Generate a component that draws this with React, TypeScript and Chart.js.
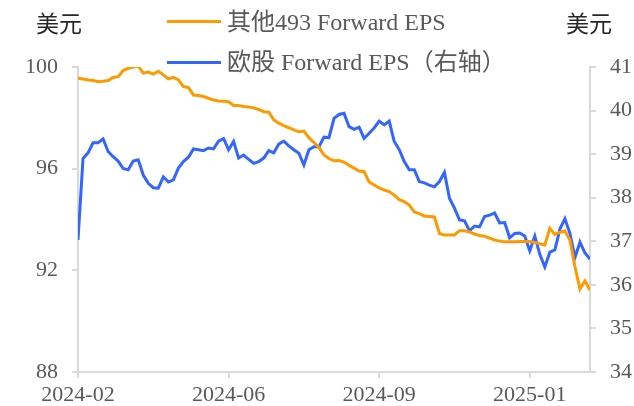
import React, { useEffect, useRef } from 'react';
import { Chart, registerables } from 'chart.js';

Chart.register(...registerables);

// x positions are sample indices; tick labels shown at these indices
const xTickIndex = [0, 30, 60, 90];
const xTickLabels = ['2024-02', '2024-06', '2024-09', '2025-01'];

const seriesNames = ['其他493 Forward EPS', '欧股 Forward EPS（右轴）'];
const unitLabel = '美元';

const other493Eps = [
  99.56, 99.53, 99.49, 99.47, 99.42, 99.44, 99.47, 99.59, 99.62, 99.86,
  99.95, 100.0, 100.04, 99.76, 99.8, 99.72, 99.83, 99.69, 99.53, 99.59,
  99.49, 99.23, 99.19, 98.9, 98.88, 98.84, 98.77, 98.7, 98.66, 98.65,
  98.63, 98.49, 98.49, 98.45, 98.43, 98.39, 98.33, 98.24, 98.22, 97.92,
  97.79, 97.69, 97.61, 97.53, 97.45, 97.48, 97.22, 97.03, 96.83, 96.54,
  96.4, 96.31, 96.32, 96.26, 96.13, 96.02, 95.91, 95.88, 95.48, 95.36,
  95.24, 95.16, 95.1, 94.96, 94.78, 94.7, 94.57, 94.3, 94.23, 94.14,
  94.12, 94.1, 93.45, 93.39, 93.39, 93.39, 93.56, 93.56, 93.51, 93.43,
  93.37, 93.34, 93.27, 93.19, 93.15, 93.12, 93.12, 93.12, 93.13, 93.13,
  93.13, 93.1, 93.04, 93.0, 93.65, 93.41, 93.5, 93.55, 93.19, 92.14,
  91.27, 91.58, 91.23,
];

const europeEps = [
  37.03, 38.9, 39.03, 39.26, 39.26, 39.35, 39.06, 38.94, 38.84, 38.67,
  38.64, 38.84, 38.87, 38.52, 38.33, 38.23, 38.22, 38.48, 38.36, 38.41,
  38.68, 38.83, 38.93, 39.12, 39.1, 39.08, 39.14, 39.12, 39.3, 39.36,
  39.1, 39.29, 38.91, 38.98, 38.88, 38.79, 38.83, 38.91, 39.08, 39.03,
  39.23, 39.3, 39.19, 39.1, 39.02, 38.75, 39.1, 39.17, 39.17, 39.39,
  39.38, 39.82, 39.91, 39.94, 39.63, 39.57, 39.62, 39.36, 39.48, 39.6,
  39.76, 39.67, 39.76, 39.29, 39.1, 38.83, 38.64, 38.64, 38.37, 38.34,
  38.29, 38.25, 38.37, 38.58, 37.99, 37.76, 37.49, 37.47, 37.24, 37.35,
  37.33, 37.57, 37.6, 37.65, 37.42, 37.43, 37.08, 37.18, 37.19, 37.12,
  36.78, 37.12, 36.7, 36.41, 36.75, 36.8, 37.28, 37.52, 37.18, 36.63,
  36.98, 36.73, 36.59,
];

const leftAxis = { min: 88, max: 100, step: 4 };
const rightAxis = { min: 34, max: 41, step: 1 };

const ORANGE = '#FF9900';
const BLUE = '#3366FF';
const AXIS = '#D9D9D9';
const TEXT = '#595959';
const FONT = "'Liberation Serif', 'Times New Roman', 'Noto Sans CJK SC', serif";

export default function App() {
  const ref = useRef<HTMLCanvasElement | null>(null);

  useEffect(() => {
    if (!ref.current) return;
    const toPts = (arr: number[]) => arr.map((y, i) => ({ x: i, y }));
    const chart = new Chart(ref.current, {
      type: 'line',
      data: {
        datasets: [
          {
            label: seriesNames[0],
            data: toPts(other493Eps),
            borderColor: ORANGE,
            backgroundColor: ORANGE,
            borderWidth: 3,
            pointRadius: 0,
            tension: 0,
            yAxisID: 'y',
          },
          {
            label: seriesNames[1],
            data: toPts(europeEps),
            borderColor: BLUE,
            backgroundColor: BLUE,
            borderWidth: 3,
            pointRadius: 0,
            tension: 0,
            yAxisID: 'y1',
          },
        ],
      },
      options: {
        responsive: false,
        animation: false,
        devicePixelRatio: 1,
        layout: { padding: { top: 67, left: 0, right: 0, bottom: 0 } },
        plugins: { legend: { display: false }, tooltip: { enabled: false } },
        scales: {
          x: {
            type: 'linear',
            min: 0,
            max: other493Eps.length - 1,
            afterBuildTicks: (s: any) => {
              s.ticks = xTickIndex.map((v) => ({ value: v }));
            },
            afterFit: (s: any) => {
              s.height = 34;
            },
            ticks: {
              autoSkip: false,
              maxRotation: 0,
              padding: 4,
              color: TEXT,
              font: { family: FONT, size: 22 },
              callback: (v: any) => {
                const k = xTickIndex.indexOf(Number(v));
                return k >= 0 ? xTickLabels[k] : '';
              },
            },
            grid: { drawOnChartArea: false, tickLength: 6, color: AXIS, lineWidth: 2 },
            border: { color: AXIS, width: 2 },
          },
          y: {
            position: 'left',
            min: leftAxis.min,
            max: leftAxis.max,
            afterFit: (s: any) => {
              s.width = 78;
            },
            ticks: {
              stepSize: leftAxis.step,
              padding: 14,
              color: TEXT,
              font: { family: FONT, size: 22 },
            },
            grid: { drawOnChartArea: false, tickLength: 6, color: AXIS, lineWidth: 2 },
            border: { color: AXIS, width: 2 },
          },
          y1: {
            position: 'right',
            min: rightAxis.min,
            max: rightAxis.max,
            afterFit: (s: any) => {
              s.width = 44;
            },
            ticks: {
              stepSize: rightAxis.step,
              padding: 14,
              color: TEXT,
              font: { family: FONT, size: 22 },
            },
            grid: { drawOnChartArea: false, tickLength: 6, color: AXIS, lineWidth: 2 },
            border: { color: AXIS, width: 2 },
          },
        },
      },
    });
    return () => chart.destroy();
  }, []);

  const textStyle: React.CSSProperties = {
    position: 'absolute',
    fontFamily: FONT,
    fontSize: 24,
    lineHeight: '30px',
    color: TEXT,
    whiteSpace: 'nowrap',
  };
  const unitStyle: React.CSSProperties = {
    ...textStyle,
    fontSize: 23,
    lineHeight: '28px',
    color: '#262626',
  };

  return (
    <div style={{ position: 'fixed', left: 0, top: 0, width: 634, height: 406, background: '#fff' }}>
      <canvas ref={ref} width={634} height={406} style={{ display: 'block', width: 634, height: 406 }} />
      <div style={{ ...unitStyle, left: 36, top: 11 }}>{unitLabel}</div>
      <div style={{ ...unitStyle, left: 566, top: 11 }}>{unitLabel}</div>
      <div style={{ position: 'absolute', left: 167, top: 20, width: 54, height: 3, background: ORANGE }} />
      <div style={{ ...textStyle, left: 227, top: 7 }}>{seriesNames[0]}</div>
      <div style={{ position: 'absolute', left: 167, top: 61, width: 54, height: 3, background: BLUE }} />
      <div style={{ ...textStyle, left: 227, top: 47 }}>{seriesNames[1]}</div>
    </div>
  );
}
